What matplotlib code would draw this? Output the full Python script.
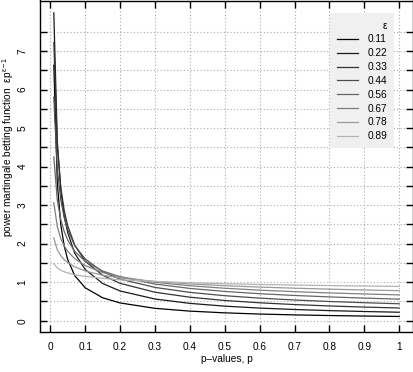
import matplotlib
matplotlib.use("Agg")
import matplotlib.pyplot as plt
from matplotlib.ticker import FixedLocator

plt.rcParams['font.family'] = ['Liberation Sans', 'DejaVu Sans']
plt.rcParams['mathtext.fontset'] = 'custom'
plt.rcParams['mathtext.rm'] = 'Liberation Sans'
plt.rcParams['mathtext.it'] = 'Liberation Sans'

p_values = [0.01, 0.02, 0.03, 0.04, 0.05, 0.07, 0.1, 0.15, 0.2, 0.3, 0.4, 0.5, 0.6, 0.7, 0.8, 0.9, 1.0]
eps_labels = ["0.11", "0.22", "0.33", "0.44", "0.56", "0.67", "0.78", "0.89"]
bet_011 = [6.63, 3.58, 2.49, 1.93, 1.58, 1.17, 0.854, 0.595, 0.461, 0.321, 0.249, 0.204, 0.173, 0.151, 0.134, 0.121, 0.11]
bet_022 = [7.99, 4.65, 3.39, 2.71, 2.28, 1.75, 1.33, 0.966, 0.772, 0.563, 0.450, 0.378, 0.328, 0.291, 0.262, 0.239, 0.22]
bet_033 = [7.22, 4.54, 3.46, 2.85, 2.46, 1.96, 1.54, 1.18, 0.970, 0.739, 0.610, 0.525, 0.465, 0.419, 0.383, 0.354, 0.33]
bet_044 = [5.80, 3.93, 3.14, 2.67, 2.36, 1.95, 1.60, 1.27, 1.08, 0.864, 0.735, 0.649, 0.586, 0.537, 0.499, 0.467, 0.44]
bet_056 = [4.25, 3.13, 2.62, 2.31, 2.09, 1.80, 1.54, 1.29, 1.14, 0.951, 0.838, 0.760, 0.701, 0.655, 0.618, 0.587, 0.56]
bet_067 = [3.06, 2.44, 2.13, 1.94, 1.80, 1.61, 1.43, 1.25, 1.14, 0.997, 0.907, 0.842, 0.793, 0.754, 0.721, 0.694, 0.67]
bet_078 = [2.15, 1.84, 1.69, 1.58, 1.51, 1.40, 1.29, 1.18, 1.11, 1.02, 0.954, 0.908, 0.873, 0.844, 0.819, 0.798, 0.78]
bet_089 = [1.48, 1.37, 1.31, 1.27, 1.24, 1.19, 1.15, 1.10, 1.06, 1.02, 0.984, 0.960, 0.941, 0.926, 0.912, 0.900, 0.89]
series = [bet_011, bet_022, bet_033, bet_044, bet_056, bet_067, bet_078, bet_089]
grays = ["#000000", "#1a1a1a", "#333333", "#4d4d4d", "#666666", "#808080", "#999999", "#b3b3b3"]
x_ticks = [0, 0.1, 0.2, 0.3, 0.4, 0.5, 0.6, 0.7, 0.8, 0.9, 1.0]
x_ticklabels = ["0", "0.1", "0.2", "0.3", "0.4", "0.5", "0.6", "0.7", "0.8", "0.9", "1"]
y_ticks = [0, 1, 2, 3, 4, 5, 6, 7]
y_minor = [0.5, 1.5, 2.5, 3.5, 4.5, 5.5, 6.5, 7.5]

FS = 7.3
fig = plt.figure(figsize=(4.14, 3.72), dpi=100)
W, H = 414, 372
ax = fig.add_axes([40 / W, (H - 332) / H, 373 / W, 331.5 / H])

for ys, c, lab in zip(series, grays, eps_labels):
    ax.plot(p_values, ys, color=c, lw=0.9, label=lab)

ax.set_xlim(-0.0296, 1.0396)
ax.set_ylim(-0.293, 8.31)

ax.set_xticks(x_ticks)
ax.set_xticklabels(x_ticklabels)
ax.yaxis.set_major_locator(FixedLocator(y_ticks))
ax.yaxis.set_minor_locator(FixedLocator(y_minor))
ax.set_yticklabels([str(v) for v in y_ticks])

ax.grid(True, which='both', axis='y', color='#aaaaaa', linestyle=(0, (1, 2)), lw=0.8)
ax.grid(True, which='major', axis='x', color='#aaaaaa', linestyle=(0, (1, 2)), lw=0.8)

ax.tick_params(which='both', direction='in', length=5, width=1, top=True, right=True,
               labelsize=FS, colors='black')
ax.tick_params(axis='x', pad=7)
ax.tick_params(axis='y', pad=9)
for lbl in ax.get_yticklabels():
    lbl.set_rotation(90)
    lbl.set_va('center')
for s in ax.spines.values():
    s.set_linewidth(1)

ax.set_xlabel("p\u2013values, p", fontsize=FS, labelpad=2)
fig.text(8 / W, 1 - 147 / H,
         "power martingale betting function  $\\mathregular{\u03b5p^{\u03b5\u22121}}$",
         fontsize=FS, rotation=90, ha='center', va='center')

leg = ax.legend(title="\u03b5", loc='upper left', bbox_to_anchor=(0.777, 0.961), fontsize=FS,
                title_fontsize=FS, frameon=True, fancybox=False, framealpha=1,
                facecolor='#f0f0f0', edgecolor='none', handlelength=2.1,
                handletextpad=0.9, labelspacing=0.38, borderpad=0.7, borderaxespad=0)
leg.get_frame().set_linewidth(0)
leg._legend_box.align = "right"

fig.savefig("out.png", dpi=100)
